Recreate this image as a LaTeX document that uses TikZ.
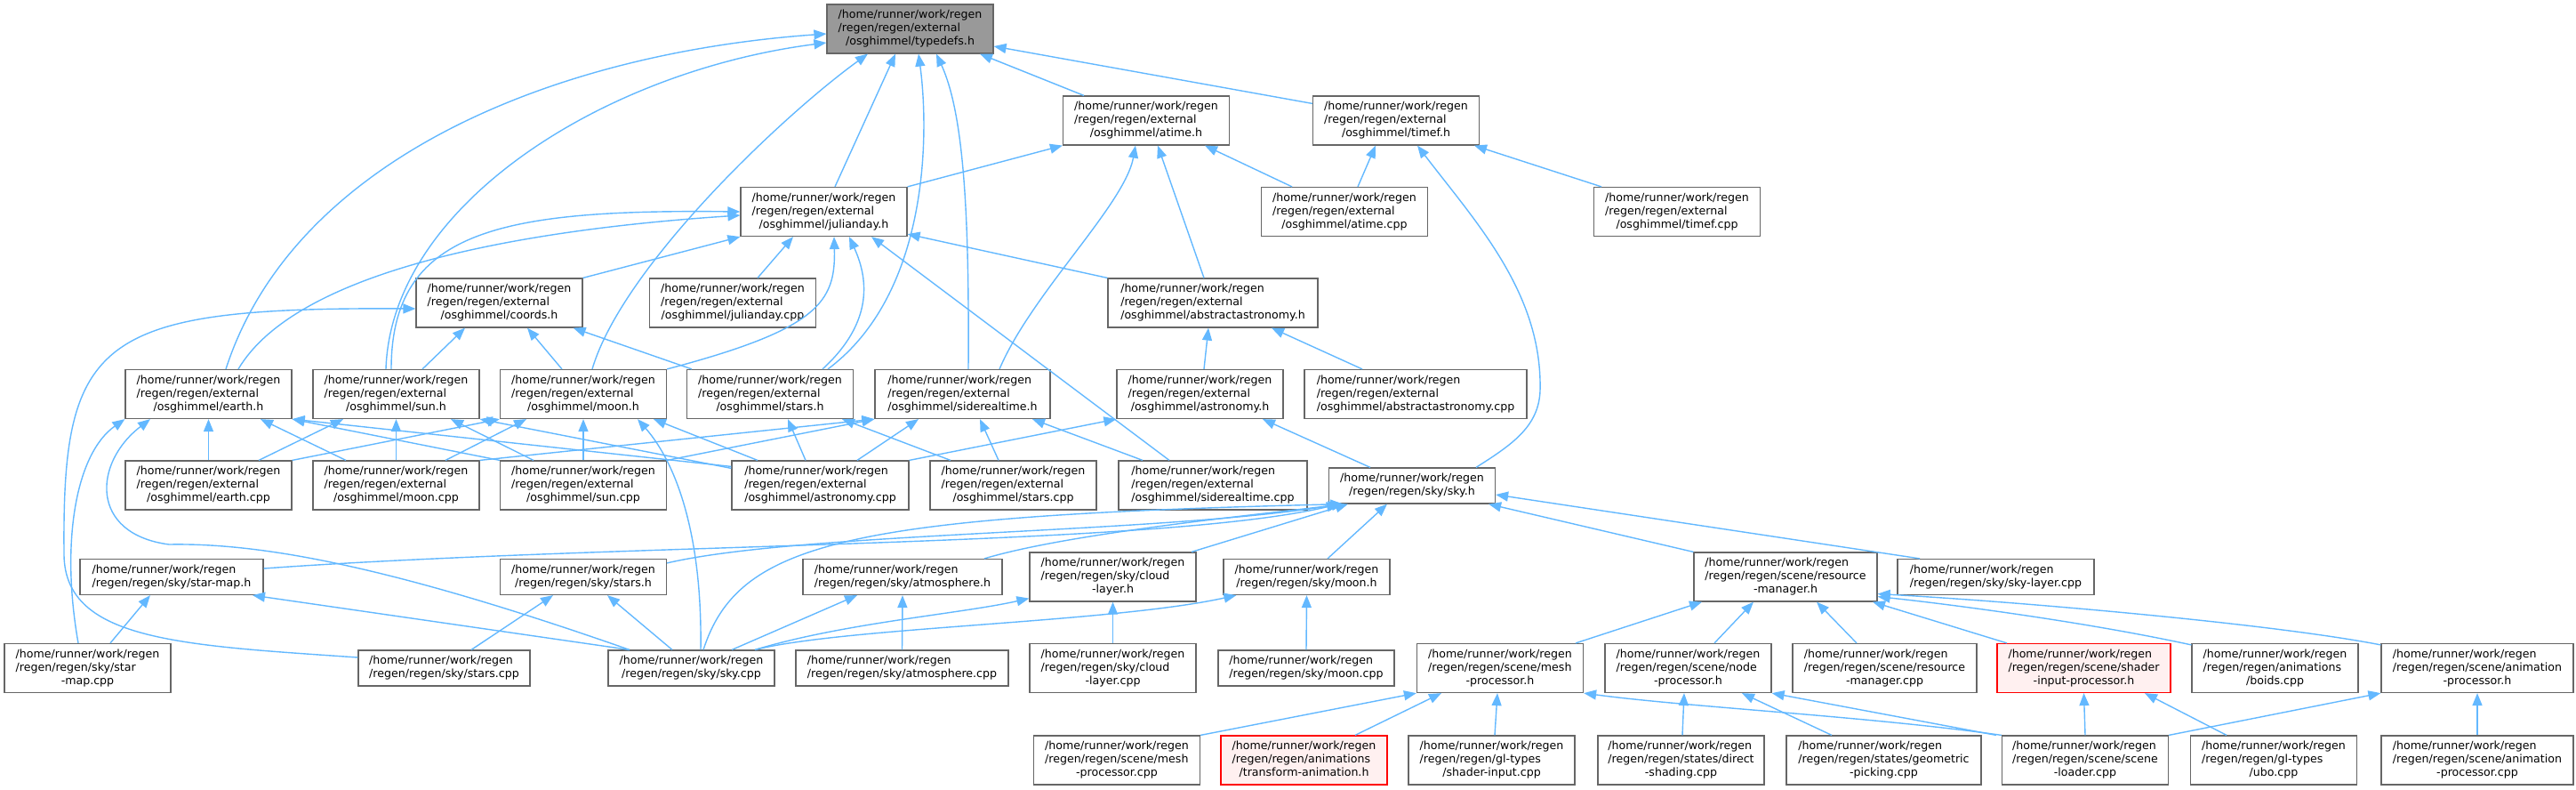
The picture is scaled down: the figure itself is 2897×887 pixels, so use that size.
\documentclass[tikz,border=0pt]{standalone}
\usepackage{fontspec}
\setmainfont{DejaVu Sans}
\usetikzlibrary{arrows.meta}

\definecolor{edgeblue}{HTML}{63B8FF}
\definecolor{boxgray}{HTML}{666666}
\definecolor{rootfill}{HTML}{999999}
\definecolor{cutfill}{HTML}{FFF0F0}

% label with left lines and a centred last line
\newcommand{\twolines}[2]{\begin{tabular}{@{}l@{}}#1\\\multicolumn{1}{@{}c@{}}{#2}\end{tabular}}
\newcommand{\threelines}[3]{\begin{tabular}{@{}l@{}}#1\\#2\\\multicolumn{1}{@{}c@{}}{#3}\end{tabular}}

\tikzset{
  file/.style={draw=boxgray, fill=white, line width=1.2pt, inner xsep=0pt, inner ysep=5pt,
    minimum width=187, minimum height=40, font=\fontsize{12.6}{15}\selectfont},
  root/.style={file, fill=rootfill},
  cut/.style={file, draw=red, fill=cutfill},
  edge/.style={draw=edgeblue, line width=1.4pt, -{Triangle[length=14pt,width=11pt]}}
}

\begin{document}
\begin{tikzpicture}[x=1pt,y=-1pt]
    \useasboundingbox (0,0) rectangle (2897,887);

    % Root
    \node[root] (typedefs) at (1023.5,32.5) {\threelines{/home/runner/work/regen}{/regen/regen/external}{/osghimmel/typedefs.h}};

    % osghimmel
    \node[file] (atimeh) at (1289,135.5) {\threelines{/home/runner/work/regen}{/regen/regen/external}{/osghimmel/atime.h}};
    \node[file] (timefh) at (1570,135.5) {\threelines{/home/runner/work/regen}{/regen/regen/external}{/osghimmel/timef.h}};
    \node[file] (juliandayh) at (926.5,238) {\threelines{/home/runner/work/regen}{/regen/regen/external}{/osghimmel/julianday.h}};
    \node[file] (atimecpp) at (1512,238) {\threelines{/home/runner/work/regen}{/regen/regen/external}{/osghimmel/atime.cpp}};
    \node[file] (timefcpp) at (1886,238) {\threelines{/home/runner/work/regen}{/regen/regen/external}{/osghimmel/timef.cpp}};
    \node[file] (coordsh) at (561.5,340.5) {\threelines{/home/runner/work/regen}{/regen/regen/external}{/osghimmel/coords.h}};
    \node[file] (juliandaycpp) at (824,340.5) {\threelines{/home/runner/work/regen}{/regen/regen/external}{/osghimmel/julianday.cpp}};
    \node[file, minimum width=236] (abstractastronomyh) at (1364,340.5) {\threelines{/home/runner/work/regen}{/regen/regen/external}{/osghimmel/abstractastronomy.h}};

    \node[file] (earthh) at (234.5,443) {\threelines{/home/runner/work/regen}{/regen/regen/external}{/osghimmel/earth.h}};
    \node[file] (sunh) at (445.5,443) {\threelines{/home/runner/work/regen}{/regen/regen/external}{/osghimmel/sun.h}};
    \node[file] (moonh) at (656,443) {\threelines{/home/runner/work/regen}{/regen/regen/external}{/osghimmel/moon.h}};
    \node[file] (starsh) at (866,443) {\threelines{/home/runner/work/regen}{/regen/regen/external}{/osghimmel/stars.h}};
    \node[file, minimum width=197] (siderealtimeh) at (1082.5,443) {\threelines{/home/runner/work/regen}{/regen/regen/external}{/osghimmel/siderealtime.h}};
    \node[file] (astronomyh) at (1349.5,443) {\threelines{/home/runner/work/regen}{/regen/regen/external}{/osghimmel/astronomy.h}};
    \node[file, minimum width=250] (abstractastronomycpp) at (1592,443) {\threelines{/home/runner/work/regen}{/regen/regen/external}{/osghimmel/abstractastronomy.cpp}};

    \node[file] (earthcpp) at (234.5,545.5) {\threelines{/home/runner/work/regen}{/regen/regen/external}{/osghimmel/earth.cpp}};
    \node[file] (mooncpp) at (445.5,545.5) {\threelines{/home/runner/work/regen}{/regen/regen/external}{/osghimmel/moon.cpp}};
    \node[file] (suncpp) at (656,545.5) {\threelines{/home/runner/work/regen}{/regen/regen/external}{/osghimmel/sun.cpp}};
    \node[file, minimum width=199] (astronomycpp) at (922.5,545.5) {\threelines{/home/runner/work/regen}{/regen/regen/external}{/osghimmel/astronomy.cpp}};
    \node[file] (starscpp) at (1139.5,545.5) {\threelines{/home/runner/work/regen}{/regen/regen/external}{/osghimmel/stars.cpp}};
    \node[file, minimum width=212] (siderealtimecpp) at (1364,545.5) {\threelines{/home/runner/work/regen}{/regen/regen/external}{/osghimmel/siderealtime.cpp}};

    % sky
    \node[file] (skyh) at (1588,546) {\twolines{/home/runner/work/regen}{/regen/regen/sky/sky.h}};
    \node[file, minimum width=206] (starmaph) at (193,648.5) {\twolines{/home/runner/work/regen}{/regen/regen/sky/star-map.h}};
    \node[file] (skystarsh) at (656,648.5) {\twolines{/home/runner/work/regen}{/regen/regen/sky/stars.h}};
    \node[file, minimum width=224] (atmosphereh) at (1015,648.5) {\twolines{/home/runner/work/regen}{/regen/regen/sky/atmosphere.h}};
    \node[file] (cloudlayerh) at (1251.5,648.5) {\threelines{/home/runner/work/regen}{/regen/regen/sky/cloud}{-layer.h}};
    \node[file] (skymoonh) at (1469.5,648.5) {\twolines{/home/runner/work/regen}{/regen/regen/sky/moon.h}};
    \node[file, minimum width=221] (skylayercpp) at (2244.5,648.5) {\twolines{/home/runner/work/regen}{/regen/regen/sky/sky-layer.cpp}};

    \node[file] (starmapcpp) at (98.5,751) {\threelines{/home/runner/work/regen}{/regen/regen/sky/star}{-map.cpp}};
    \node[file, minimum width=193] (skystarscpp) at (499.5,751) {\twolines{/home/runner/work/regen}{/regen/regen/sky/stars.cpp}};
    \node[file] (skycpp) at (777.5,751) {\twolines{/home/runner/work/regen}{/regen/regen/sky/sky.cpp}};
    \node[file, minimum width=239] (atmospherecpp) at (1014.5,751) {\twolines{/home/runner/work/regen}{/regen/regen/sky/atmosphere.cpp}};
    \node[file] (cloudlayercpp) at (1251.5,751) {\threelines{/home/runner/work/regen}{/regen/regen/sky/cloud}{-layer.cpp}};
    \node[file, minimum width=198] (skymooncpp) at (1469,751) {\twolines{/home/runner/work/regen}{/regen/regen/sky/moon.cpp}};

    % scene
    \node[file, minimum width=206] (resourcemanagerh) at (2008,648.5) {\threelines{/home/runner/work/regen}{/regen/regen/scene/resource}{-manager.h}};
    \node[file] (meshprocessorh) at (1687,751) {\threelines{/home/runner/work/regen}{/regen/regen/scene/mesh}{-processor.h}};
    \node[file] (nodeprocessorh) at (1898.5,751) {\threelines{/home/runner/work/regen}{/regen/regen/scene/node}{-processor.h}};
    \node[file, minimum width=207] (resourcemanagercpp) at (2119.5,751) {\threelines{/home/runner/work/regen}{/regen/regen/scene/resource}{-manager.cpp}};
    \node[cut, minimum width=195] (shaderinputprocessorh) at (2343.5,751) {\threelines{/home/runner/work/regen}{/regen/regen/scene/shader}{-input-processor.h}};
    \node[file] (boidscpp) at (2558.5,751) {\threelines{/home/runner/work/regen}{/regen/regen/animations}{/boids.cpp}};
    \node[file, minimum width=216] (animationprocessorh) at (2786,751) {\threelines{/home/runner/work/regen}{/regen/regen/scene/animation}{-processor.h}};

    \node[file] (meshprocessorcpp) at (1256,854.5) {\threelines{/home/runner/work/regen}{/regen/regen/scene/mesh}{-processor.cpp}};
    \node[cut] (transformanimationh) at (1466.5,854.5) {\threelines{/home/runner/work/regen}{/regen/regen/animations}{/transform-animation.h}};
    \node[file] (shaderinputcpp) at (1677.5,854.5) {\threelines{/home/runner/work/regen}{/regen/regen/gl-types}{/shader-input.cpp}};
    \node[file] (directshadingcpp) at (1890.5,854.5) {\threelines{/home/runner/work/regen}{/regen/regen/states/direct}{-shading.cpp}};
    \node[file, minimum width=219] (geometricpickingcpp) at (2118.5,854.5) {\threelines{/home/runner/work/regen}{/regen/regen/states/geometric}{-picking.cpp}};
    \node[file] (sceneloadercpp) at (2345,854.5) {\threelines{/home/runner/work/regen}{/regen/regen/scene/scene}{-loader.cpp}};
    \node[file] (ubocpp) at (2557,854.5) {\threelines{/home/runner/work/regen}{/regen/regen/gl-types}{/ubo.cpp}};
    \node[file, minimum width=216] (animationprocessorcpp) at (2786,854.5) {\threelines{/home/runner/work/regen}{/regen/regen/scene/animation}{-processor.cpp}};

    % Edges into typedefs.h
    \draw[edge] ([xshift=19.5]earthh.north) .. controls (330,180) and (620,60) .. ([yshift=-5.5]typedefs.west);
    \draw[edge] ([xshift=-11.5]sunh.north) .. controls (440,230) and (680,80) .. ([yshift=-15.5]typedefs.west);
    \draw[edge] ([xshift=10]moonh.north) .. controls (700,300) and (880,130) .. ([xshift=-47.5]typedefs.south);
    \draw[edge] ([xshift=12.5]juliandayh.north) -- ([xshift=-16.5]typedefs.south);
    \draw[edge] ([xshift=65]starsh.north) .. controls (1045,330) and (1045,150) .. ([xshift=9.5]typedefs.south);
    \draw[edge] ([xshift=6.5]siderealtimeh.north) .. controls (1090,250) and (1085,130) .. ([xshift=29.5]typedefs.south);
    \draw[edge] ([xshift=-70]atimeh.north) -- ([xshift=78.5]typedefs.south);
    \draw[edge] ([yshift=-9]timefh.north west) -- ([yshift=-19.5]typedefs.east);

    % Edges into atime.h and timef.h
    \draw[edge] (juliandayh.north east) -- (atimeh.south west);
    \draw[edge] ([xshift=41.5]siderealtimeh.north) .. controls (1160,330) and (1265,230) .. ([xshift=-12]atimeh.south);
    \draw[edge] ([xshift=-10]abstractastronomyh.north) -- ([xshift=13]atimeh.south);
    \draw[edge] ([xshift=-59]atimecpp.north) -- ([xshift=66]atimeh.south);
    \draw[edge] ([xshift=15]atimecpp.north) -- ([xshift=-23]timefh.south);
    \draw[edge] ([xshift=72]skyh.north) .. controls (1700,500) and (1730,480) .. (1732,440)
        .. controls (1735,330) and (1660,250) .. ([xshift=24]timefh.south);
    \draw[edge] ([xshift=-85]timefcpp.north) -- ([xshift=88]timefh.south);

    % Edges into julianday.h
    \draw[edge] ([xshift=33.5]earthh.north) .. controls (330,310) and (560,260) .. ([yshift=-4]juliandayh.west);
    \draw[edge] ([xshift=-5.5]sunh.north) .. controls (440,260) and (560,235) .. (juliandayh.west);
    \draw[edge] (coordsh.north east) -- (juliandayh.south west);
    \draw[edge] ([xshift=28]juliandaycpp.north) -- ([xshift=-34.5]juliandayh.south);
    \draw[edge] (moonh.north east) .. controls (920,370) and (940,340) .. ([xshift=11.5]juliandayh.south);
    \draw[edge] ([xshift=59]starsh.north) .. controls (985,360) and (975,310) .. ([xshift=28.5]juliandayh.south);
    \draw[edge] ([xshift=-49]siderealtimecpp.north) -- ([xshift=53.5]juliandayh.south);
    \draw[edge] (abstractastronomyh.north west) -- ([yshift=3]juliandayh.south east);

    % Edges into coords.h and abstractastronomy.h
    \draw[edge] ([yshift=12]skystarscpp.west) .. controls (200,725) and (70,720) .. (72,620)
        .. controls (70,380) and (110,345) .. ([yshift=-6.5]coordsh.west);
    \draw[edge] ([xshift=29.5]sunh.north) -- ([xshift=-38.5]coordsh.south);
    \draw[edge] ([xshift=-24]moonh.north) -- ([xshift=31.5]coordsh.south);
    \draw[edge] ([xshift=-88]starsh.north) -- ([xshift=-11]coordsh.south east);
    \draw[edge] ([xshift=4.5]astronomyh.north) -- ([xshift=-5]abstractastronomyh.south);
    \draw[edge] ([xshift=-60]abstractastronomycpp.north) -- ([xshift=66]abstractastronomyh.south);

    % Edges into earth.h, sun.h, moon.h
    \draw[edge] ([xshift=-10.5]starmapcpp.north) .. controls (68,610) and (85,510) .. (earthh.south west);
    \draw[edge] ([xshift=-69.5]skycpp.north) .. controls (450,640) and (300,610) .. (190,612)
        .. controls (100,600) and (105,520) .. ([xshift=-65.5]earthh.south);
    \draw[edge] (earthcpp.north) -- (earthh.south);
    \draw[edge] ([xshift=-56.5]mooncpp.north) -- ([xshift=58.5]earthh.south);
    \draw[edge] (suncpp.north west) -- (earthh.south east);
    \draw[edge] ([yshift=-7]astronomycpp.north west) -- (earthh.south east);
    \draw[edge] ([xshift=56.5]earthcpp.north) -- ([xshift=-59.5]sunh.south);
    \draw[edge] (mooncpp.north) -- (sunh.south);
    \draw[edge] ([xshift=-56]suncpp.north) -- ([xshift=61.5]sunh.south);
    \draw[edge] ([yshift=-9]astronomycpp.north west) -- (sunh.south east);
    \draw[edge] (earthcpp.north east) -- (moonh.south west);
    \draw[edge] ([xshift=55.5]mooncpp.north) -- ([xshift=-64]moonh.south);
    \draw[edge] (suncpp.north) -- (moonh.south);
    \draw[edge] ([xshift=10.5]skycpp.north) .. controls (790,600) and (760,520) .. ([xshift=61]moonh.south);
    \draw[edge] ([xshift=-70.5]astronomycpp.north) -- ([xshift=79]moonh.south);

    % Edges into stars.h, siderealtime.h, astronomy.h
    \draw[edge] ([xshift=-16.5]astronomycpp.north) -- ([xshift=20]starsh.south);
    \draw[edge] ([xshift=-70.5]starscpp.north) -- ([xshift=81]starsh.south);
    \draw[edge] (mooncpp.north east) -- (siderealtimeh.south west);
    \draw[edge] (suncpp.north east) -- (siderealtimeh.south west);
    \draw[edge] ([xshift=41.5]astronomycpp.north) -- ([xshift=-49.5]siderealtimeh.south);
    \draw[edge] ([xshift=-16.5]starscpp.north) -- ([xshift=19.5]siderealtimeh.south);
    \draw[edge] ([xshift=-79]siderealtimecpp.north) -- ([xshift=78.5]siderealtimeh.south);
    \draw[edge] (astronomycpp.north east) -- (astronomyh.south west);
    \draw[edge] ([xshift=-47]skyh.north) -- ([xshift=70.5]astronomyh.south);

    % Edges into sky.h
    \draw[edge] ([yshift=9.5]starmaph.east) .. controls (700,610) and (1300,615) .. ([xshift=12]skyh.south west);
    \draw[edge] ([yshift=-5]skystarsh.north east) .. controls (900,598) and (1300,600) .. ([xshift=14]skyh.south west);
    \draw[edge] ([xshift=13.5]skycpp.north) .. controls (830,610) and (950,580) .. ([xshift=16]skyh.south west);
    \draw[edge] ([xshift=92]atmosphereh.north) .. controls (1200,600) and (1400,580) .. ([xshift=18]skyh.south west);
    \draw[edge] ([xshift=88.5]cloudlayerh.north) -- ([xshift=22]skyh.south west);
    \draw[edge] ([xshift=23.5]skymoonh.north) -- ([xshift=-28]skyh.south);
    \draw[edge] (resourcemanagerh.north west) -- ([xshift=-8]skyh.south east);
    \draw[edge] ([xshift=-85.5]skylayercpp.north) -- ([yshift=-10]skyh.east);

    % Edges into the other sky headers
    \draw[edge] ([xshift=25.5]starmapcpp.north) -- ([xshift=-24]starmaph.south);
    \draw[edge] ([xshift=-69.5]skycpp.north) -- ([xshift=91]starmaph.south);
    \draw[edge] ([xshift=30.5]skystarscpp.north) -- ([xshift=-34]skystarsh.south);
    \draw[edge] ([xshift=-21.5]skycpp.north) -- ([xshift=27]skystarsh.south);
    \draw[edge] ([xshift=45.5]skycpp.north) -- ([xshift=-51]atmosphereh.south);
    \draw[edge] (atmospherecpp.north) -- (atmosphereh.south);
    \draw[edge] ([xshift=71.5]skycpp.north) .. controls (950,700) and (1080,690) .. ([yshift=4]cloudlayerh.south west);
    \draw[edge] (cloudlayercpp.north) -- (cloudlayerh.south);
    \draw[edge] ([xshift=71.5]skycpp.north) .. controls (950,705) and (1250,700) .. ([xshift=15]skymoonh.south west);
    \draw[edge] (skymooncpp.north) -- (skymoonh.south);

    % Edges into resource-manager.h
    \draw[edge] ([xshift=85]meshprocessorh.north) -- ([xshift=-94]resourcemanagerh.south);
    \draw[edge] ([xshift=29.5]nodeprocessorh.north) -- ([xshift=-36]resourcemanagerh.south);
    \draw[edge] ([xshift=-31.5]resourcemanagercpp.north) -- ([xshift=35]resourcemanagerh.south);
    \draw[edge] ([xshift=-86.5]shaderinputprocessorh.north) -- ([xshift=98]resourcemanagerh.south);
    \draw[edge] ([yshift=-2]boidscpp.north west) .. controls (2350,700) and (2200,680) .. ([yshift=6]resourcemanagerh.south east);
    \draw[edge] ([yshift=-2]animationprocessorh.north west) .. controls (2550,700) and (2250,675) .. ([yshift=9]resourcemanagerh.south east);

    % Edges into the scene headers
    \draw[edge] (meshprocessorcpp.north east) -- (meshprocessorh.south west);
    \draw[edge] ([xshift=57.5]transformanimationh.north) -- ([xshift=-66]meshprocessorh.south);
    \draw[edge] ([xshift=3.5]shaderinputcpp.north) -- ([xshift=-3]meshprocessorh.south);
    \draw[edge] (sceneloadercpp.north west) .. controls (2100,805) and (1900,795) .. (meshprocessorh.south east);
    \draw[edge] ([xshift=1.5]directshadingcpp.north) -- ([xshift=-4.5]nodeprocessorh.south);
    \draw[edge] ([xshift=-58.5]geometricpickingcpp.north) -- ([xshift=60.5]nodeprocessorh.south);
    \draw[edge] ([xshift=-6]sceneloadercpp.north west) -- (nodeprocessorh.south east);
    \draw[edge] (sceneloadercpp.north) -- (shaderinputprocessorh.south);
    \draw[edge] ([xshift=-53]ubocpp.north) -- ([xshift=68.5]shaderinputprocessorh.south);
    \draw[edge] (sceneloadercpp.north east) -- (animationprocessorh.south west);
    \draw[edge] (animationprocessorcpp.north) -- (animationprocessorh.south);
\end{tikzpicture}
\end{document}
